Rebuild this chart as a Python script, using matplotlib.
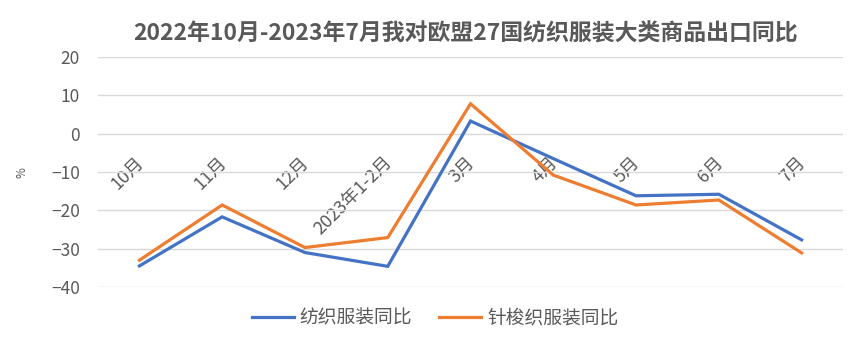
"""欧盟27国纺织服装出口同比 折线图"""

import matplotlib
matplotlib.use("Agg")
import matplotlib.pyplot as plt
from matplotlib.transforms import ScaledTranslation

plt.rcParams['font.family'] = ['Noto Sans CJK SC', 'DejaVu Sans']

months = ['10月', '11月', '12月', '2023年1-2月', '3月', '4月', '5月', '6月', '7月']
textile_apparel = [-34.5, -21.7, -31.0, -34.6, 3.3, -6.5, -16.2, -15.8, -27.7]
knit_apparel = [-33.0, -18.6, -29.7, -27.1, 7.8, -10.8, -18.6, -17.3, -31.1]

BLUE = '#4472C4'
ORANGE = '#ED7D31'
GRAY = '#595959'

fig = plt.figure(figsize=(8.65, 3.45), dpi=100)
ax = fig.add_axes([0.1133, 0.168, 0.8613, 0.6668])

x = range(len(months))
ax.plot(x, textile_apparel, color=BLUE, lw=2.3, label='纺织服装同比', solid_joinstyle='miter')
ax.plot(x, knit_apparel, color=ORANGE, lw=2.3, label='针梭织服装同比', solid_joinstyle='miter')

ax.set_xlim(-0.5, len(months) - 0.5)
ax.set_ylim(-40, 20)
ax.set_yticks(range(-40, 21, 10))
ax.yaxis.grid(True, color='#D9D9D9', lw=1)
ax.set_axisbelow(True)

# category axis sits at y=0, labels hang below it
ax.spines['bottom'].set_position(('data', 0))
for s in ['top', 'right', 'left', 'bottom']:
    ax.spines[s].set_visible(False)
ax.set_xticks(list(x))
ax.set_xticklabels(months, rotation=45, ha='right', rotation_mode='anchor',
                   fontsize=13, color=GRAY)
ax.tick_params(axis='x', length=0, pad=14)
ax.tick_params(axis='y', length=0, labelsize=12.5, labelcolor=GRAY, pad=13)
shift = ScaledTranslation(-5 / 100, 0, fig.dpi_scale_trans)
for lbl in ax.get_xticklabels():
    lbl.set_transform(lbl.get_transform() + shift)

fig.text(0.025, 0.5, '%', rotation=90, fontsize=8.5, color=GRAY, va='center', ha='center')

ax.set_title('2022年10月-2023年7月我对欧盟27国纺织服装大类商品出口同比',
             fontsize=16.5, color=GRAY, fontweight='bold', pad=12, x=0.4933)

fig.legend(loc='center', bbox_to_anchor=(0.503, 0.078), ncol=2, frameon=False,
           fontsize=13.5, labelcolor=GRAY, handlelength=2.24, columnspacing=1.44,
           handletextpad=0.32)

fig.savefig('out.png', dpi=100)
